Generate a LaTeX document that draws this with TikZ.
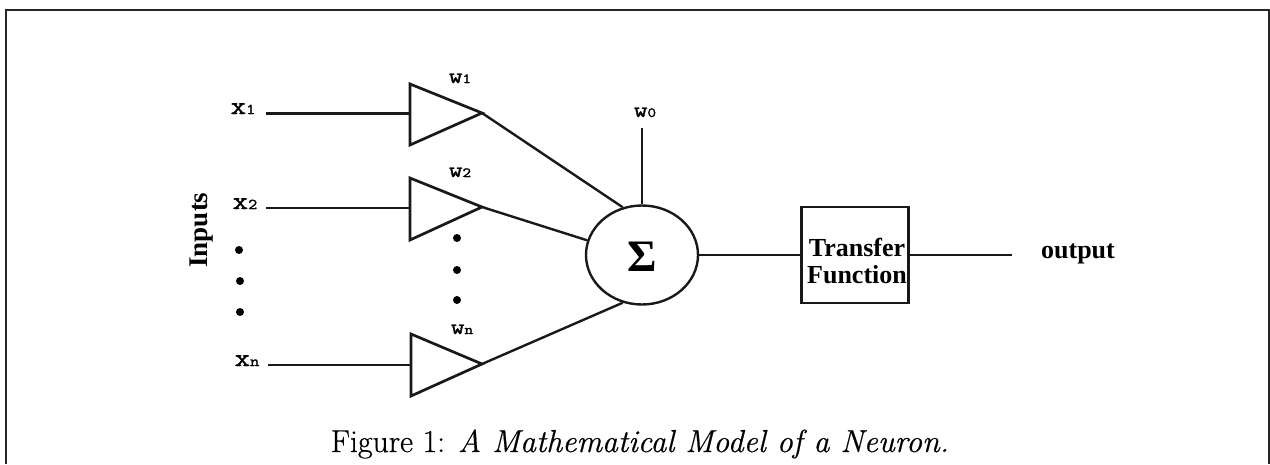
\documentclass[tikz,border=0pt]{standalone}
\usepackage{fontspec}
\usetikzlibrary{shapes.geometric}
\setmainfont{Liberation Serif}
\newfontfamily\cmr[FakeBold=0.6]{Latin Modern Roman}
\newfontfamily\mono[FakeBold=1.6,FakeStretch=1.2]{Latin Modern Mono}
\tikzset{
 wire/.style={line width=2.4pt,black!90},
 amp/.style={line width=2.7pt,black!90,line join=miter},
 lab/.style={font=\mono\fontsize{25}{25}\selectfont,inner sep=0pt,anchor=base},
 wlab/.style={font=\mono\fontsize{22}{22}\selectfont,inner sep=0pt,anchor=base},
 boldt/.style={font=\bfseries\fontsize{26}{28}\selectfont,inner sep=0pt,align=center},
 dotn/.style={circle,fill=black,inner sep=0pt,minimum size=8pt},
 sumn/.style={ellipse,draw=black!90,line width=2.4pt,minimum width=112pt,minimum height=99pt,inner sep=0pt},
 boxn/.style={draw=black!90,line width=2.4pt,minimum width=107pt,minimum height=96pt,inner sep=0pt},
}
\begin{document}
\begin{tikzpicture}[x=1pt,y=-1pt]
\useasboundingbox (0,0) rectangle (1270,464);
\draw[line width=2.2pt,black!85] (6,464) -- (6,10) -- (1269,10) -- (1269,464);
% amplifiers
\coordinate (t1a) at (410,84); \coordinate (t1b) at (410,145); \coordinate (t1c) at (482,113);
\coordinate (t2a) at (410,178); \coordinate (t2b) at (410,240); \coordinate (t2c) at (482,207);
\coordinate (t3a) at (411,334); \coordinate (t3b) at (411,396); \coordinate (t3c) at (482,364);
\draw[amp] (t1a) -- (t1b) -- (t1c) -- cycle;
\draw[amp] (t2a) -- (t2b) -- (t2c) -- cycle;
\draw[amp] (t3a) -- (t3b) -- (t3c) -- cycle;
\coordinate (i1) at (266,113.5); \coordinate (i1e) at (410,113.5);
\coordinate (i2) at (266,208); \coordinate (i2e) at (410,208);
\coordinate (i3) at (268,365); \coordinate (i3e) at (411,365);
\draw[wire] (i1) -- (i1e);
\draw[wire] (i2) -- (i2e);
\draw[wire] (i3) -- (i3e);
\node[sumn] (sum) at (642,255) {};
\node[inner sep=0pt,font=\bfseries\fontsize{45}{45}\selectfont] (sig) at (642,257) {Σ};
\node[boxn] (tf) at (855,255) {};
\node[boldt] (tft) at (857,261) {Transfer\\Function};
\draw[wire] (t1c) -- (sum.112);
\draw[wire] (t2c) -- (sum.165);
\draw[wire] (t3c) -- (sum.248);
\coordinate (w0e) at (642,128);
\draw[wire] (w0e) -- (sum.north);
\draw[wire] (sum.east) -- (tf.west);
\coordinate (oute) at (1012,255);
\draw[wire] (tf.east) -- (oute);
\node[lab] (x1) at (243,114) {x\fontsize{15}{15}\selectfont 1};
\node[lab] (x2) at (245,209) {x\fontsize{15}{15}\selectfont 2};
\node[lab] (xn) at (247,366) {x\fontsize{15}{15}\selectfont n};
\node[wlab] (w1) at (460,83) {w\fontsize{14}{14}\selectfont 1};
\node[wlab] (w2) at (460,177) {w\fontsize{14}{14}\selectfont 2};
\node[wlab] (wn) at (462,334) {w\fontsize{14}{14}\selectfont n};
\node[wlab] (w0) at (645,117) {w\fontsize{14}{14}\selectfont 0};
\node[boldt,rotate=90,font=\bfseries\fontsize{27}{28}\selectfont] (inp) at (202,230) {Inputs};
\node[boldt] (out) at (1078,254) {output};
\node[dotn] (a1) at (239,250) {};
\node[dotn] (a2) at (240,281) {};
\node[dotn] (a3) at (240,312) {};
\node[dotn] (b1) at (457,238) {};
\node[dotn] (b2) at (457,270) {};
\node[dotn] (b3) at (457,300) {};
\node[inner sep=0pt,anchor=base,font=\cmr\fontsize{31.8}{32}\selectfont] (cap) at (640,452) {Figure 1: \textit{A Mathematical Model of a Neuron.}};
\end{tikzpicture}
\end{document}
